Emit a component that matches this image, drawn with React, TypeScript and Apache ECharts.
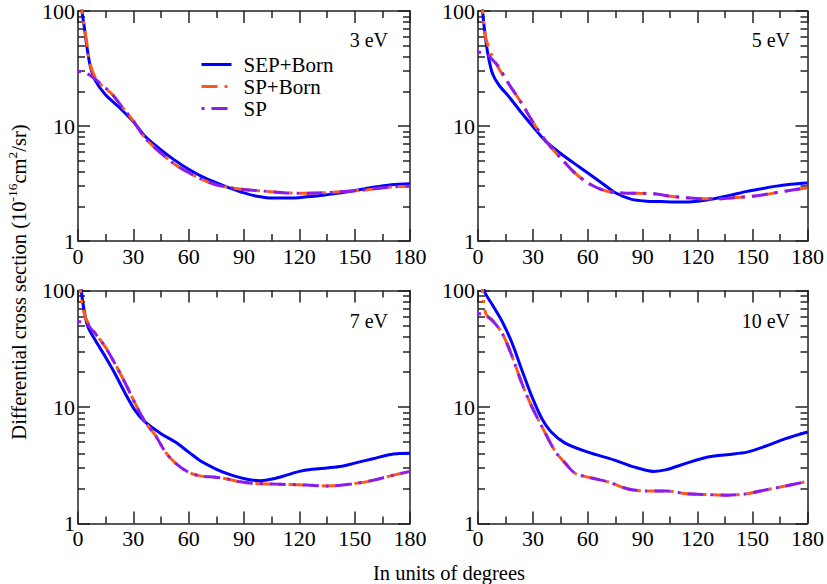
import React, { useEffect, useRef } from "react";
import * as echarts from "echarts";

type Pt = [number, number];

// Panel titles (incident energy) and curve names
const energies = ["3 eV", "5 eV", "7 eV", "10 eV"];
const curveNames = ["SEP+Born", "SP+Born", "SP"];

// Minor tick positions on the logarithmic axes
const logMinorTicks = [2, 3, 4, 5, 6, 7, 8, 9, 20, 30, 40, 50, 60, 70, 80, 90];

// ---- 3 eV : [angle (deg), DCS (1e-16 cm^2/sr)] ----
const sep3: Pt[] = [[1, 250], [2.2, 100], [3.5, 71], [4.9, 48], [6.7, 33], [9.4, 24.8], [14.8, 18.8], [22, 14.7], [30, 10.9], [36.5, 8.1], [45, 6.2], [52, 5.1], [60, 4.2], [67, 3.65], [74.5, 3.23], [82, 2.9], [90, 2.62], [97, 2.45], [106, 2.36], [115, 2.36], [124, 2.42], [133, 2.5], [142, 2.62], [151, 2.76], [160, 2.93], [170, 3.08], [180, 3.15]];
const spb3: Pt[] = [[1, 250], [2.2, 100], [3.5, 72], [5, 50], [6.7, 34], [9, 27], [11, 24], [15, 21], [18.4, 19], [24, 14.6], [30, 11.1], [36.5, 7.8], [45, 5.8], [52, 4.7], [58, 4.1], [66, 3.5], [74.5, 3.1], [82, 2.92], [90, 2.8], [100, 2.72], [113, 2.62], [125, 2.6], [142, 2.68], [155, 2.77], [163, 2.87], [172, 2.96], [180, 3.0]];
const sp3: Pt[] = [[0, 30], [3, 29.5], [6.7, 27.5], [10, 25], [14.8, 21.5], [18.4, 19], [24, 14.6], [30, 11.1], [36.5, 7.8], [45, 5.8], [52, 4.7], [58, 4.1], [66, 3.5], [74.5, 3.1], [82, 2.92], [90, 2.8], [100, 2.72], [113, 2.62], [125, 2.6], [142, 2.68], [155, 2.77], [163, 2.87], [172, 2.96], [180, 3.0]];

// ---- 5 eV ----
const sep5: Pt[] = [[1, 250], [2.5, 100], [4.3, 55], [5.8, 39], [8, 28.3], [11.6, 22.5], [17, 17.9], [24, 12.9], [30, 9.9], [37, 7.35], [45, 5.8], [52, 4.8], [60, 3.9], [67.6, 3.2], [75, 2.63], [84, 2.3], [92, 2.22], [100, 2.2], [111, 2.18], [120, 2.22], [129, 2.33], [138, 2.5], [147, 2.7], [155, 2.85], [163, 3.0], [171, 3.12], [180, 3.2]];
const spb5: Pt[] = [[1, 250], [2.5, 100], [4.3, 58], [7, 43.3], [11.6, 31.2], [17, 23], [24, 15.6], [31.5, 9.9], [38, 7.1], [46, 5.1], [53, 3.9], [60, 3.2], [67.6, 2.8], [75, 2.63], [88, 2.6], [96.5, 2.57], [105, 2.45], [114, 2.38], [123, 2.33], [132, 2.33], [141, 2.39], [150, 2.45], [159, 2.57], [170, 2.75], [180, 2.9]];
const sp5: Pt[] = [[0, 44], [3, 43], [6, 40.6], [9, 36], [11.6, 32.3], [15, 26], [17, 23], [24, 15.6], [31.5, 9.9], [38, 7.1], [46, 5.1], [53, 3.9], [60, 3.2], [67.6, 2.8], [75, 2.63], [88, 2.6], [96.5, 2.57], [105, 2.45], [114, 2.38], [123, 2.33], [132, 2.33], [141, 2.39], [150, 2.45], [159, 2.57], [170, 2.75], [180, 2.9]];

// ---- 7 eV ----
const sep7: Pt[] = [[0.5, 250], [1.8, 100], [4, 59], [5.8, 47], [9.4, 37.4], [14.8, 27], [20, 19.4], [25.7, 13], [31, 9.3], [36.5, 7.4], [45, 5.9], [52.8, 5.0], [60, 4.1], [67, 3.4], [74.5, 2.95], [81.7, 2.65], [89, 2.45], [94, 2.36], [99, 2.33], [106, 2.42], [113, 2.6], [120, 2.8], [127, 2.92], [135, 3.0], [143, 3.1], [150, 3.3], [160, 3.6], [171, 3.95], [180, 4.0]];
const spb7: Pt[] = [[0.5, 250], [1.3, 100], [4, 59], [9.4, 42.7], [14.8, 32.8], [20, 23.6], [25.7, 15.9], [31, 10.7], [36.5, 7.4], [42, 5.7], [47.4, 4.1], [52.8, 3.3], [60, 2.75], [67, 2.55], [74.5, 2.5], [81.7, 2.4], [88, 2.28], [94, 2.22], [106, 2.18], [124, 2.14], [135, 2.1], [150, 2.2], [160, 2.35], [171, 2.6], [180, 2.8]];
const sp7: Pt[] = [[0, 54], [3, 54], [5, 52], [7, 47], [9.4, 42.7], [14.8, 32.8], [20, 23.6], [25.7, 15.9], [31, 10.7], [36.5, 7.4], [42, 5.7], [47.4, 4.1], [52.8, 3.3], [60, 2.75], [67, 2.55], [74.5, 2.5], [81.7, 2.4], [88, 2.28], [94, 2.22], [106, 2.18], [124, 2.14], [135, 2.1], [150, 2.2], [160, 2.35], [171, 2.6], [180, 2.8]];

// ---- 10 eV ----
const sep10: Pt[] = [[1, 200], [3.4, 100], [8, 74.8], [13.3, 53.8], [18.7, 35.1], [24, 20.7], [29.5, 12.2], [35, 7.9], [40, 6.1], [47.6, 4.9], [60, 4.1], [74.6, 3.5], [85, 3.06], [96, 2.8], [103, 2.9], [114, 3.3], [125, 3.7], [136, 3.9], [147, 4.1], [157, 4.6], [168, 5.35], [180, 6.1]];
const spb10: Pt[] = [[1, 250], [2.5, 100], [4.3, 63], [8, 55], [13.3, 42.7], [18.7, 27], [24, 15.9], [29.5, 10], [35, 6.75], [42, 4.2], [47.6, 3.3], [53, 2.7], [60, 2.5], [71, 2.28], [82, 1.98], [92.6, 1.9], [103, 1.9], [114, 1.8], [125, 1.77], [136, 1.75], [147, 1.8], [157, 1.94], [168, 2.1], [180, 2.3]];
const sp10: Pt[] = [[0, 63.4], [3, 62.5], [4.3, 61], [8, 55], [13.3, 42.7], [18.7, 27], [24, 15.9], [29.5, 10], [35, 6.75], [42, 4.2], [47.6, 3.3], [53, 2.7], [60, 2.5], [71, 2.28], [82, 1.98], [92.6, 1.9], [103, 1.9], [114, 1.8], [125, 1.77], [136, 1.75], [147, 1.8], [157, 1.94], [168, 2.1], [180, 2.3]];

const panels: Pt[][][] = [
  [sep3, spb3, sp3],
  [sep5, spb5, sp5],
  [sep7, spb7, sp7],
  [sep10, spb10, sp10],
];

const FONT = "Liberation Serif, Times New Roman, serif";
const AXIS_COLOR = "#222";
const COLORS = ["#0000ff", "#ff5a14", "#8a1cf0"];
const DASHES: (string | number[])[] = ["solid", [16, 7, 3, 7], [3, 7, 16, 7]];

const GRIDS = [
  { left: 78, top: 7.5, width: 332, height: 233.5 },
  { left: 478, top: 7.5, width: 333, height: 233.5 },
  { left: 78, top: 290.5, width: 332, height: 233 },
  { left: 478, top: 290.5, width: 333, height: 233 },
];
const LABEL_POS = [
  { x: 388, y: 40 },
  { x: 790, y: 40 },
  { x: 388, y: 321 },
  { x: 790, y: 321 },
];

function buildOption(): echarts.EChartsOption {
  const lineStyle = { color: AXIS_COLOR, width: 1.5 };
  const xAxis: any[] = [];
  const yAxis: any[] = [];
  const series: any[] = [];

  GRIDS.forEach((_, i) => {
    const xBase = {
      type: "value",
      gridIndex: i,
      min: 0,
      max: 180,
      interval: 30,
      axisLine: { show: true, onZero: false, lineStyle },
      axisTick: { show: true, inside: true, length: 12, lineStyle },
      minorTick: { show: true, splitNumber: 2, length: 7, lineStyle },
      splitLine: { show: false },
      minorSplitLine: { show: false },
    };
    xAxis.push({
      ...xBase,
      position: "bottom",
      axisLabel: { color: "#000", fontFamily: FONT, fontSize: 22, margin: 4 },
    });
    xAxis.push({ ...xBase, position: "top", axisLabel: { show: false } });

    const yBase = {
      type: "log",
      logBase: 10,
      gridIndex: i,
      min: 1,
      max: 100,
      splitLine: { show: false },
    };
    yAxis.push({
      ...yBase,
      position: "left",
      axisLine: { show: true, onZero: false, lineStyle },
      axisTick: { show: true, inside: true, length: 12, lineStyle },
      axisLabel: { color: "#000", fontFamily: FONT, fontSize: 22, margin: 3 },
    });
    yAxis.push({
      ...yBase,
      position: "right",
      axisLine: { show: true, onZero: false, lineStyle },
      axisTick: { show: true, inside: true, length: 12, lineStyle },
      axisLabel: { show: false },
    });
    yAxis.push({
      ...yBase,
      position: "left",
      axisLine: { show: false, onZero: false },
      axisTick: { show: true, inside: true, length: 7, lineStyle, customValues: logMinorTicks },
      axisLabel: { show: false },
    });
    yAxis.push({
      ...yBase,
      position: "right",
      axisLine: { show: false, onZero: false },
      axisTick: { show: true, inside: true, length: 7, lineStyle, customValues: logMinorTicks },
      axisLabel: { show: false },
    });

    panels[i].forEach((data, k) => {
      series.push({
        type: "line",
        name: curveNames[k],
        xAxisIndex: 2 * i,
        yAxisIndex: 4 * i,
        data,
        symbol: "none",
        smooth: 0.3,
        clip: true,
        z: 2 + k,
        lineStyle: { color: COLORS[k], width: 3, type: DASHES[k] },
        itemStyle: { color: COLORS[k] },
      });
    });
  });

  const graphic: any[] = energies.map((label, i) => ({
    type: "text",
    x: LABEL_POS[i].x,
    y: LABEL_POS[i].y,
    style: {
      text: label,
      font: `20px ${FONT}`,
      fill: "#000",
      align: "right",
      verticalAlign: "middle",
    },
  }));

  graphic.push({
    type: "text",
    x: 17,
    y: 282,
    rotation: Math.PI / 2,
    style: {
      text: "{m|Differential cross section (10}{s|-16}{m|cm}{s|2}{m|/sr)}",
      align: "center",
      verticalAlign: "middle",
      fill: "#000",
      rich: {
        m: { fontFamily: FONT, fontSize: 20.5, lineHeight: 24, verticalAlign: "bottom", fill: "#000" },
        s: { fontFamily: FONT, fontSize: 13.5, lineHeight: 14, verticalAlign: "top", fill: "#000" },
      },
    },
  });

  graphic.push({
    type: "text",
    x: 449,
    y: 573,
    style: {
      text: "In units of degrees",
      font: `20.5px ${FONT}`,
      fill: "#000",
      align: "center",
      verticalAlign: "middle",
    },
  });

  return {
    animation: false,
    backgroundColor: "#fff",
    grid: GRIDS.map((g) => ({ ...g, containLabel: false })),
    xAxis,
    yAxis,
    legend: {
      show: true,
      orient: "vertical",
      left: 200,
      top: 54,
      padding: 0,
      itemWidth: 30,
      itemHeight: 12,
      itemGap: 1,
      selectedMode: false,
      data: curveNames,
      itemStyle: { opacity: 0 },
      lineStyle: { width: 3 },
      textStyle: { fontFamily: FONT, fontSize: 21, color: "#000", lineHeight: 21, padding: [0, 0, 0, 7] },
    },
    graphic,
    series,
  };
}

export default function App() {
  const ref = useRef<HTMLDivElement>(null);

  useEffect(() => {
    if (!ref.current) return;
    const chart = echarts.init(ref.current, undefined, { renderer: "svg" });
    chart.setOption(buildOption());
    return () => chart.dispose();
  }, []);

  return (
    <div
      ref={ref}
      style={{ position: "absolute", left: 0, top: 0, width: 827, height: 584, background: "#fff" }}
    />
  );
}
